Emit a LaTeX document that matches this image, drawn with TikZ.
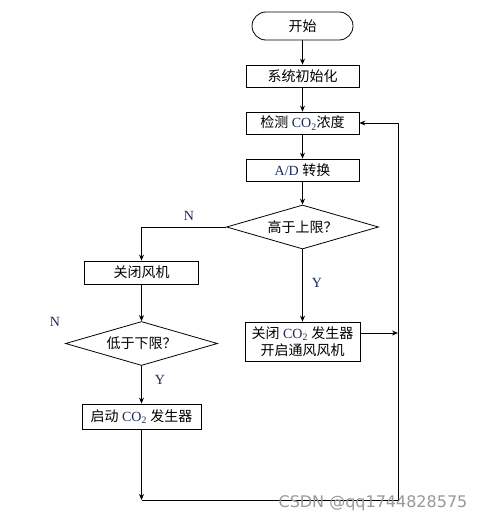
\documentclass[tikz,border=0pt]{standalone}
\usepackage{fontspec}
\setmainfont{Liberation Serif}
\newfontfamily\cjk{Noto Sans CJK SC}
\newfontfamily\wmfont{DejaVu Sans}
\usetikzlibrary{shapes.geometric,arrows.meta}
\definecolor{lat}{HTML}{1F2A5C}
\begin{document}
\begin{tikzpicture}[x=1pt,y=-1pt,
  box/.style={draw, line width=0.8pt, minimum height=22pt, minimum width=113pt, inner sep=0pt,
    font=\fontsize{14}{17}\selectfont, align=center},
  term/.style={box, rounded corners=14pt, minimum width=101pt, minimum height=28pt},
  dia/.style={diamond, draw, line width=0.8pt, inner sep=0pt, aspect=3.4,
    minimum width=152pt, minimum height=44pt, font=\fontsize{14}{17}\selectfont},
  arr/.style={-{Stealth[length=6pt,width=5pt,inset=2pt]}, line width=0.8pt},
  lab/.style={font=\fontsize{14}{16}\selectfont, text=lat}]
\useasboundingbox (0,0) rectangle (486,522);
\fill[white] (0,0) rectangle (486,522);
% main column
\node[term] (start) at (302.5,26) {\cjk 开始};
\node[box] (init) at (302.5,76) {\cjk 系统初始化};
\node[box] (detect) at (302.5,123) {{\cjk 检测} \textcolor{lat}{CO\textsubscript{2}}{\cjk 浓度}};
\node[box] (ad) at (302.5,170) {\textcolor{lat}{A/D} {\cjk 转换}};
\node[dia] (hi) at (302.5,227) {\cjk 高于上限？};
\node[box, minimum width=115pt, minimum height=39pt] (act) at (302.5,341.5)
  {{\cjk 关闭} \textcolor{lat}{CO\textsubscript{2}} {\cjk 发生器}\\{\cjk 开启通风风机}};
% left column
\node[box, minimum width=114pt, minimum height=23pt] (fan) at (141.5,272.5) {\cjk 关闭风机};
\node[dia] (lo) at (141.5,343.5) {\cjk 低于下限？};
\node[box, minimum width=119pt, minimum height=25pt] (gen) at (141.5,416.5)
  {{\cjk 启动} \textcolor{lat}{CO\textsubscript{2}} {\cjk 发生器}};
% labels
\node[lab] (n1) at (189,216) {N};
\node[lab] (y1) at (317,283) {Y};
\node[lab] (n2) at (55,322) {N};
\node[lab] (y2) at (160,380) {Y};
% connectors
\draw[arr] (start) -- (init);
\draw[arr] (init) -- (detect);
\draw[arr] (detect) -- (ad);
\draw[arr] (ad) -- (hi);
\draw[arr] (hi) -- (act);
\draw[arr] (hi.west) -| (fan.north);
\draw[arr] (fan) -- (lo);
\draw[arr] (lo) -- (gen);
\coordinate (bl) at (141.5,500);
\coordinate (br) at (398,500);
\coordinate (tr) at (398,123);
\draw[arr] (gen) -- (bl);
\draw[arr] (bl) -- (br) -- (tr) -- (detect.east);
\coordinate (ae) at ([yshift=8.5pt]act.east);
\draw[arr] (ae) -- (ae -| br);
% watermark
\node[font=\wmfont\fontsize{16}{18}\selectfont, text=black!40] (wm) at (373,503) {CSDN @qq1744828575};
\end{tikzpicture}
\end{document}
